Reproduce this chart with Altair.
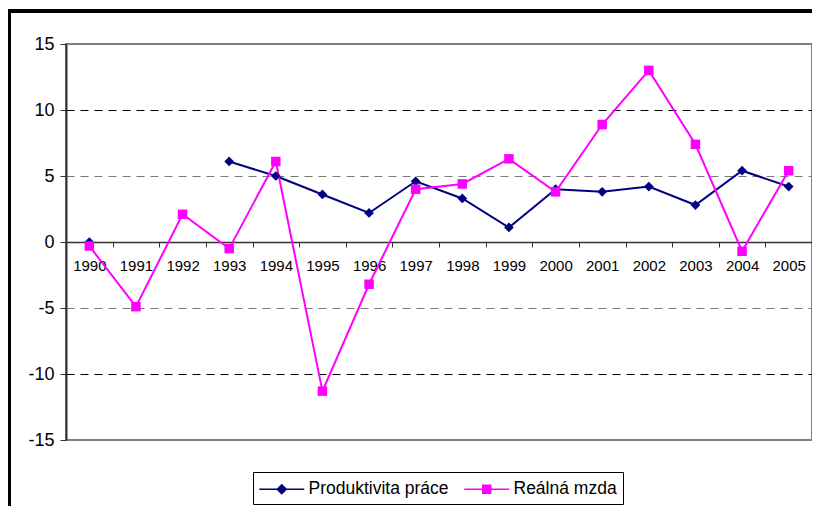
import altair as alt
import pandas as pd

years = [str(y) for y in range(1990, 2006)]
produktivita = [0.0, None, None, 6.1, 5.0, 3.6, 2.2, 4.6, 3.3, 1.1, 4.0, 3.8, 4.2, 2.8, 5.4, 4.2]
realna_mzda = [-0.3, -4.9, 2.1, -0.5, 6.1, -11.3, -3.2, 4.0, 4.4, 6.3, 3.8, 8.9, 13.0, 7.4, -0.7, 5.4]
series_names = ["Produktivita práce", "Reálná mzda"]
series_colors = ["#000080", "#FF00FF"]
series_shapes = ["diamond", "square"]
y_ticks = [-15, -10, -5, 0, 5, 10, 15]

rows = []
for name, vals in zip(series_names, [produktivita, realna_mzda]):
    for yr, v in zip(years, vals):
        rows.append({"rok": yr, "serie": name, "hodnota": v})
df = pd.DataFrame(rows)

W, H = 746, 396
FONT = "Liberation Sans"
y_dom = [-15, 15]
zero_offset = -H * (0 - y_dom[0]) / (y_dom[1] - y_dom[0])

# legend symbols: line segment + marker (unit path; 1 unit = sqrt(symbolSize)/2 px)
leg_paths = [
    "M-1.075,0H3.425M0.725,0L1.175,-0.45L1.625,0L1.175,0.45Z",
    "M-1.075,0H3.425M0.775,-0.4H1.575V0.4H0.775Z",
]

legend = alt.Legend(
    title=None,
    orient="none",
    legendX=187,
    legendY=428,
    direction="horizontal",
    strokeColor="black",
    padding=6,
    fillColor="white",
    symbolSize=400,
    symbolStrokeWidth=1.5,
    labelOffset=27.5,
    columnPadding=12,
    labelFont=FONT,
    labelFontSize=17.5,
    labelColor="black",
)

color_scale = alt.Scale(domain=series_names, range=series_colors)

x_enc = alt.X(
    "rok:O",
    title=None,
    sort=years,
    scale=alt.Scale(paddingInner=0, paddingOuter=0),
    axis=alt.Axis(
        offset=zero_offset,
        domainColor="#333333",
        domainWidth=1.5,
        tickBand="extent",
        tickColor="#333333",
        tickSize=5,
        labelPadding=11,
        labelAngle=0,
        labelFont=FONT,
        labelFontSize=15,
        labelColor="black",
        grid=False,
    ),
)
y_enc = alt.Y(
    "hodnota:Q",
    title=None,
    scale=alt.Scale(domain=y_dom, nice=False, zero=False),
    axis=alt.Axis(
        values=y_ticks,
        labelExpr="'' + datum.value",
        domainColor="#333333",
        domainWidth=2,
        tickColor="#333333",
        tickSize=6,
        labelPadding=6,
        labelFont=FONT,
        labelFontSize=18,
        labelColor="black",
        grid=True,
        gridDash=[8, 6],
        gridColor=alt.condition("abs(datum.value) == 5", alt.value("#7a7a7a"), alt.value("black")),
        gridOpacity=alt.condition("abs(datum.value) == 15 || datum.value == 0", alt.value(0), alt.value(1)),
        gridWidth=1,
    ),
)

base = alt.Chart(df)

# invisible layer that carries the legend (symbols = line + marker)
leg_layer = base.mark_point(filled=True, strokeWidth=1.5, size=0, opacity=1).encode(
    x=x_enc,
    y=y_enc,
    color=alt.Color("serie:N", scale=color_scale, legend=legend),
    shape=alt.Shape("serie:N", scale=alt.Scale(domain=series_names, range=leg_paths), legend=legend),
)

lines = base.mark_line(strokeWidth=2, invalid="break-paths-show-domains").encode(
    x=x_enc, y=y_enc, color=alt.Color("serie:N", scale=color_scale), order=alt.Order("rok:O")
)
pts_a = base.transform_filter(alt.datum.serie == series_names[0]).mark_point(
    filled=True, size=95, opacity=1, shape=series_shapes[0]
).encode(x=x_enc, y=y_enc, color=alt.Color("serie:N", scale=color_scale))
pts_b = base.transform_filter(alt.datum.serie == series_names[1]).mark_point(
    filled=True, size=90, opacity=1, shape=series_shapes[1]
).encode(x=x_enc, y=y_enc, color=alt.Color("serie:N", scale=color_scale))

# outer chart frame (top and left edges; the rest lies outside the page)
frame_top = alt.Chart(df).mark_rule(stroke="black", strokeWidth=2.5).encode(
    x=alt.value(-58), x2=alt.value(770), y=alt.value(-33)
)
frame_left = alt.Chart(df).mark_rule(stroke="black", strokeWidth=2.5).encode(
    x=alt.value(-57), y=alt.value(-34), y2=alt.value(490)
)

chart = alt.layer(leg_layer, lines, pts_a, pts_b, frame_top, frame_left).properties(
    width=W,
    height=H,
    background="white",
    padding={"left": 58, "top": 36, "right": 0, "bottom": 66},
    autosize=alt.AutoSizeParams(type="none"),
).configure_view(
    stroke="#808080", strokeWidth=2
)

chart.save("out.html", embed_options={"renderer": "svg", "actions": False})
